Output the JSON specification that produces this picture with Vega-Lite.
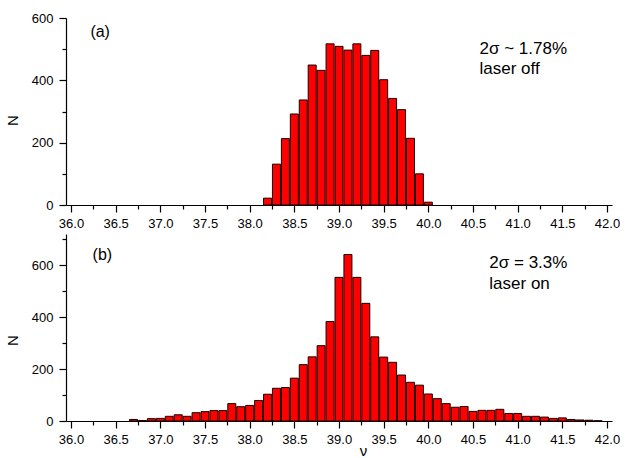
{
  "$schema": "https://vega.github.io/schema/vega-lite/v6.json",
  "autosize": {"type": "pad"},
  "padding": {"left": 5, "top": 12, "right": 0, "bottom": 0},
  "background": "white",
  "spacing": 29,
  "bounds": "flush",
  "config": {
    "view": {"stroke": null},
    "font": "Liberation Sans",
    "axis": {
      "domainColor": "#000000",
      "domainWidth": 1.2,
      "tickColor": "#000000",
      "tickWidth": 1.2,
      "labelColor": "#000000",
      "labelFont": "Liberation Sans",
      "labelFontSize": 13,
      "titleFont": "Liberation Sans",
      "titleFontSize": 15,
      "titleFontWeight": "normal",
      "titleColor": "#000000",
      "grid": false,
      "labelOverlap": false,
      "labelFlush": false
    }
  },
  "datasets": {
    "laserOff": [
      {"v": 38.2, "n": 22}, {"v": 38.3, "n": 131}, {"v": 38.4, "n": 213}, {"v": 38.5, "n": 292},
      {"v": 38.6, "n": 337}, {"v": 38.7, "n": 449}, {"v": 38.8, "n": 432}, {"v": 38.9, "n": 517},
      {"v": 39.0, "n": 509}, {"v": 39.1, "n": 497}, {"v": 39.2, "n": 517}, {"v": 39.3, "n": 480},
      {"v": 39.4, "n": 496}, {"v": 39.5, "n": 402}, {"v": 39.6, "n": 342}, {"v": 39.7, "n": 306},
      {"v": 39.8, "n": 214}, {"v": 39.9, "n": 100}, {"v": 40.0, "n": 9}
    ],
    "laserOn": [
      {"v": 36.7, "n": 6}, {"v": 36.8, "n": 2}, {"v": 36.9, "n": 9}, {"v": 37.0, "n": 10},
      {"v": 37.1, "n": 18}, {"v": 37.2, "n": 24}, {"v": 37.3, "n": 18}, {"v": 37.4, "n": 32},
      {"v": 37.5, "n": 36}, {"v": 37.6, "n": 40}, {"v": 37.7, "n": 40}, {"v": 37.8, "n": 67},
      {"v": 37.9, "n": 55}, {"v": 38.0, "n": 60}, {"v": 38.1, "n": 79}, {"v": 38.2, "n": 103},
      {"v": 38.3, "n": 126}, {"v": 38.4, "n": 129}, {"v": 38.5, "n": 165}, {"v": 38.6, "n": 217},
      {"v": 38.7, "n": 247}, {"v": 38.8, "n": 290}, {"v": 38.9, "n": 383}, {"v": 39.0, "n": 553},
      {"v": 39.1, "n": 641}, {"v": 39.2, "n": 553}, {"v": 39.3, "n": 453}, {"v": 39.4, "n": 324},
      {"v": 39.5, "n": 246}, {"v": 39.6, "n": 226}, {"v": 39.7, "n": 177}, {"v": 39.8, "n": 149},
      {"v": 39.9, "n": 138}, {"v": 40.0, "n": 104}, {"v": 40.1, "n": 86}, {"v": 40.2, "n": 67},
      {"v": 40.3, "n": 53}, {"v": 40.4, "n": 56}, {"v": 40.5, "n": 37}, {"v": 40.6, "n": 41},
      {"v": 40.7, "n": 41}, {"v": 40.8, "n": 45}, {"v": 40.9, "n": 29}, {"v": 41.0, "n": 29},
      {"v": 41.1, "n": 18}, {"v": 41.2, "n": 18}, {"v": 41.3, "n": 15}, {"v": 41.4, "n": 10},
      {"v": 41.5, "n": 12}, {"v": 41.6, "n": 6}, {"v": 41.7, "n": 4}, {"v": 41.8, "n": 3},
      {"v": 41.9, "n": 1}
    ],
    "notesOff": [
      {"v": 36.217, "n": 539, "label": "(a)", "size": 16},
      {"v": 40.573, "n": 484, "label": "2σ ~ 1.78%", "size": 17},
      {"v": 40.573, "n": 420, "label": "laser off", "size": 17}
    ],
    "notesOn": [
      {"v": 36.242, "n": 621, "label": "(b)", "size": 16},
      {"v": 40.683, "n": 589, "label": "2σ = 3.3%", "size": 17},
      {"v": 40.683, "n": 508, "label": "laser on", "size": 17}
    ]
  },
  "vconcat": [
    {
      "width": 546,
      "height": 187,
      "encoding": {
        "x": {
          "field": "v", "type": "quantitative",
          "scale": {"domain": [36, 42], "nice": false, "zero": false},
          "axis": {
            "title": null,
            "values": [36, 36.25, 36.5, 36.75, 37, 37.25, 37.5, 37.75, 38, 38.25, 38.5, 38.75, 39, 39.25, 39.5, 39.75, 40, 40.25, 40.5, 40.75, 41, 41.25, 41.5, 41.75, 42],
            "labelExpr": "datum.value % 0.5 === 0 ? format(datum.value, '.1f') : ''",
            "tickSize": {"condition": {"test": "datum.value % 0.5 === 0", "value": 7}, "value": 4},
            "labelPadding": 5
          }
        },
        "y": {
          "field": "n", "type": "quantitative",
          "scale": {"domain": [0, 600], "nice": false},
          "axis": {
            "title": "N",
            "titleX": -46,
            "titleY": 102,
            "values": [0, 100, 200, 300, 400, 500, 600],
            "labelExpr": "datum.value % 200 === 0 ? datum.label : ''",
            "tickSize": {"condition": {"test": "datum.value % 200 === 0", "value": 7}, "value": 4},
            "labelPadding": 6
          }
        }
      },
      "layer": [
        {
          "data": {"name": "laserOff"},
          "mark": {"type": "bar", "width": 8, "fill": "#ff0000", "stroke": "#1a0000", "strokeWidth": 1}
        },
        {
          "data": {"name": "notesOff"},
          "mark": {"type": "text", "align": "left", "baseline": "alphabetic", "color": "#000000", "font": "Liberation Sans"},
          "encoding": {
            "text": {"field": "label"},
            "size": {"field": "size", "type": "quantitative", "scale": null}
          }
        }
      ]
    },
    {
      "width": 546,
      "height": 187,
      "encoding": {
        "x": {
          "field": "v", "type": "quantitative",
          "scale": {"domain": [36, 42], "nice": false, "zero": false},
          "axis": {
            "title": "ν",
            "titleX": 297,
            "titleY": 34,
            "titleBaseline": "alphabetic",
            "values": [36, 36.25, 36.5, 36.75, 37, 37.25, 37.5, 37.75, 38, 38.25, 38.5, 38.75, 39, 39.25, 39.5, 39.75, 40, 40.25, 40.5, 40.75, 41, 41.25, 41.5, 41.75, 42],
            "labelExpr": "datum.value % 0.5 === 0 ? format(datum.value, '.1f') : ''",
            "tickSize": {"condition": {"test": "datum.value % 0.5 === 0", "value": 7}, "value": 4},
            "labelPadding": 5
          }
        },
        "y": {
          "field": "n", "type": "quantitative",
          "scale": {"domain": [0, 720], "nice": false},
          "axis": {
            "title": "N",
            "titleX": -46,
            "titleY": 106,
            "values": [0, 100, 200, 300, 400, 500, 600, 700],
            "labelExpr": "datum.value % 200 === 0 ? datum.label : ''",
            "tickSize": {"condition": {"test": "datum.value % 200 === 0", "value": 7}, "value": 4},
            "labelPadding": 6
          }
        }
      },
      "layer": [
        {
          "data": {"name": "laserOn"},
          "mark": {"type": "bar", "width": 8, "fill": "#ff0000", "stroke": "#1a0000", "strokeWidth": 1}
        },
        {
          "data": {"name": "notesOn"},
          "mark": {"type": "text", "align": "left", "baseline": "alphabetic", "color": "#000000", "font": "Liberation Sans"},
          "encoding": {
            "text": {"field": "label"},
            "size": {"field": "size", "type": "quantitative", "scale": null}
          }
        }
      ]
    }
  ]
}
